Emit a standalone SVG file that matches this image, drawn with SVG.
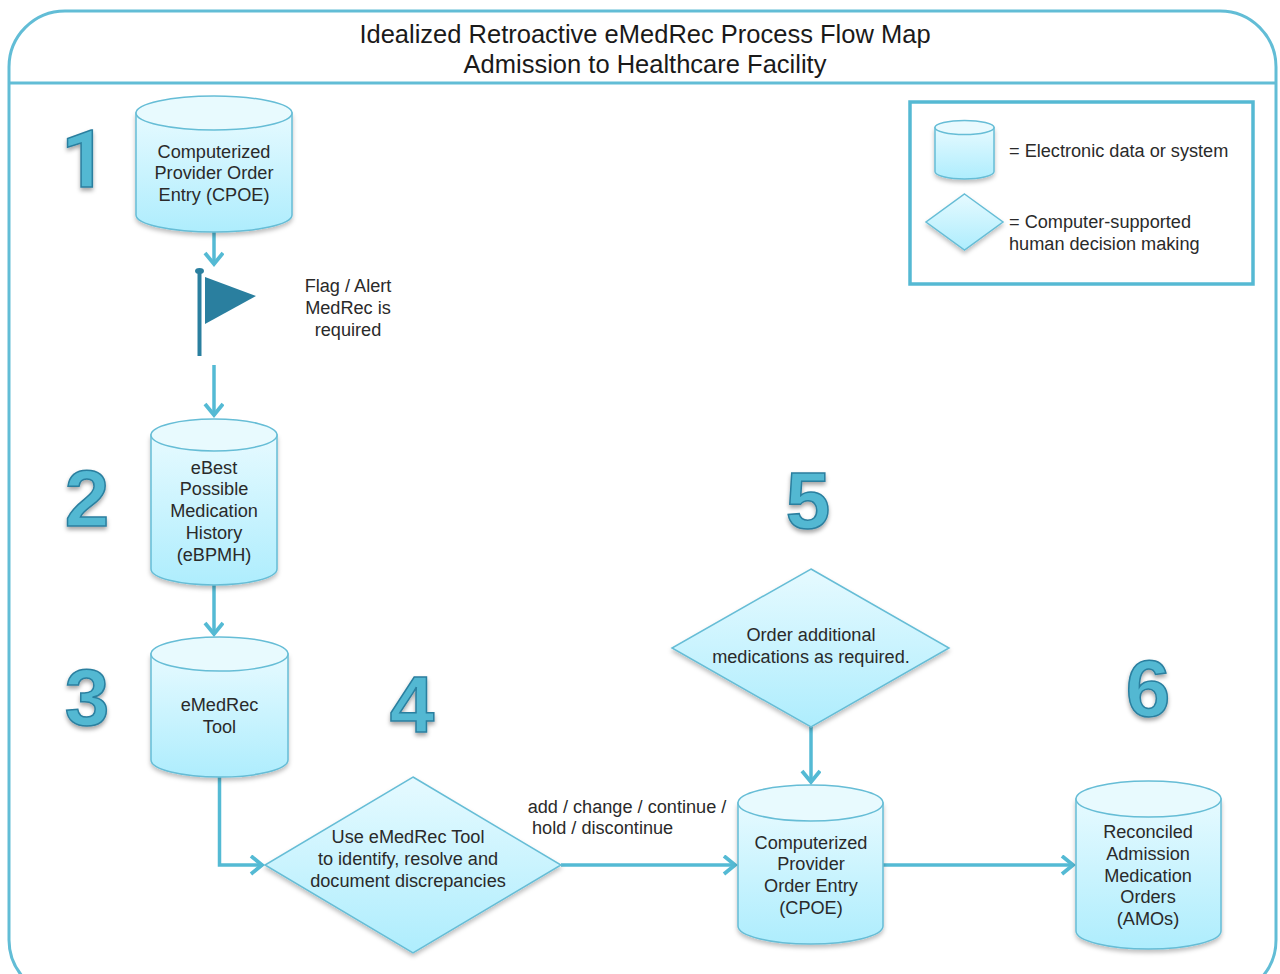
<svg xmlns="http://www.w3.org/2000/svg" width="1280" height="974" viewBox="0 0 1280 974">
<style>
text{font-family:"Liberation Sans",Arial,sans-serif;font-size:18.15px;fill:#2a2a2a;text-anchor:middle}
.l{text-anchor:start}
.title{font-size:25.5px;fill:#1a1a1a}
.num{font-size:80px;font-weight:bold;fill:#52b8d2;stroke:#2b7f9f;stroke-width:1.5;filter:url(#ns)}
.shape{fill:url(#g);stroke:#66bdd6;stroke-width:1.5;filter:url(#s)}
.top{fill:#e8fafe;stroke:#66bdd6;stroke-width:1.5}
.c{fill:none;stroke:#54bad4;stroke-width:3.5;marker-end:url(#a)}
.frame{fill:none;stroke:#62bdd6;stroke-width:3}
</style>
<defs>
<linearGradient id="g" x1="0" y1="0" x2="0" y2="1"><stop offset="0" stop-color="#e6faff"/><stop offset="1" stop-color="#aeedfd"/></linearGradient>
<filter id="s" x="-10%" y="-10%" width="120%" height="125%"><feDropShadow dx="0" dy="3" stdDeviation="2" flood-color="#000" flood-opacity=".25"/></filter>
<filter id="ns" x="-20%" y="-20%" width="150%" height="150%"><feDropShadow dx="0" dy="3" stdDeviation="2" flood-color="#000" flood-opacity=".35"/></filter>
<marker id="a" markerUnits="userSpaceOnUse" markerWidth="20" markerHeight="24" refX="14" refY="10" orient="auto"><path d="M3 1L14 10L3 19" fill="none" stroke="#54bad4" stroke-width="3.8"/></marker>
</defs>
<g id="frame">
<rect class="frame" x="9" y="11" width="1267" height="985" rx="56" ry="56"/>
<path class="frame" d="M9 83H1276"/>
<text class="title" x="645" y="43">Idealized Retroactive eMedRec Process Flow Map</text>
<text class="title" x="645" y="73">Admission to Healthcare Facility</text>
</g>
<g id="connectors">
<path class="c" d="M214 232V264"/>
<path class="c" d="M214 365V415"/>
<path class="c" d="M214 585V634"/>
<path class="c" d="M219.500 777V865H262"/>
<path class="c" d="M561 865H735"/>
<path class="c" d="M811 727V782"/>
<path class="c" d="M883 865H1073"/>
</g>
<g id="legend">
<rect x="910" y="102" width="343" height="182" fill="#fff" stroke="#55b9d3" stroke-width="3.500"/>
<path class="shape" d="M935 127.500V171.500A29.500 7.500 0 0 0 994 171.500V127.500Z"/>
<ellipse class="top" cx="964.500" cy="127.500" rx="29.500" ry="7"/>
<polygon class="shape" points="964.500,194 1003,222 964.500,250 926,222"/>
<text class="l" x="1009" y="157">= Electronic data or system</text>
<text class="l" x="1009" y="228">= Computer-supported</text>
<text class="l" x="1009" y="250">human decision making</text>
</g>
<g id="n1">
<text class="num" x="84" y="187" style="font-family:Roboto,'Liberation Sans',sans-serif">1</text>
<path class="shape" d="M136 113V215A78 17 0 0 0 292 215V113Z"/>
<ellipse class="top" cx="214" cy="113" rx="78" ry="17"/>
<text x="214" y="158">Computerized</text>
<text x="214" y="179">Provider Order</text>
<text x="214" y="201">Entry (CPOE)</text>
</g>
<g id="flag">
<path d="M199.500 270V356" stroke="#2a7f9f" stroke-width="4" fill="none"/>
<ellipse cx="199.500" cy="271" rx="4.500" ry="3" fill="#2a7f9f"/>
<polygon points="205,277 256,296 205,324" fill="#2a7f9f"/>
<text x="348" y="292">Flag / Alert</text>
<text x="348" y="314">MedRec is</text>
<text x="348" y="336">required</text>
</g>
<g id="n2">
<text class="num" x="87" y="526">2</text>
<path class="shape" d="M151 435V569A63 16 0 0 0 277 569V435Z"/>
<ellipse class="top" cx="214" cy="435" rx="63" ry="16"/>
<text x="214" y="474">eBest</text>
<text x="214" y="495">Possible</text>
<text x="214" y="517">Medication</text>
<text x="214" y="539">History</text>
<text x="214" y="561">(eBPMH)</text>
</g>
<g id="n3">
<text class="num" x="87" y="725">3</text>
<path class="shape" d="M151 654V760A68.500 17 0 0 0 288 760V654Z"/>
<ellipse class="top" cx="219.500" cy="654" rx="68.500" ry="17"/>
<text x="219.500" y="711">eMedRec</text>
<text x="219.500" y="733">Tool</text>
</g>
<g id="n4">
<text class="num" x="412" y="732">4</text>
<polygon class="shape" points="413,777 561,865 413,953 265,865"/>
<text x="408" y="843">Use eMedRec Tool</text>
<text x="408" y="865">to identify, resolve and</text>
<text x="408" y="887">document discrepancies</text>
<text x="627" y="813">add / change / continue /</text>
<text class="l" x="532" y="834">hold / discontinue</text>
</g>
<g id="n5">
<text class="num" x="808" y="528">5</text>
<polygon class="shape" points="811,569 949,648 811,727 672,648"/>
<text x="811" y="641">Order additional</text>
<text x="811" y="663">medications as required.</text>
</g>
<g id="n5b">
<path class="shape" d="M738 803V926A72.500 18 0 0 0 883 926V803Z"/>
<ellipse class="top" cx="810.500" cy="803" rx="72.500" ry="18"/>
<text x="811" y="849">Computerized</text>
<text x="811" y="870">Provider</text>
<text x="811" y="892">Order Entry</text>
<text x="811" y="914">(CPOE)</text>
</g>
<g id="n6">
<text class="num" x="1148" y="716">6</text>
<path class="shape" d="M1076 799V931A72.500 18 0 0 0 1221 931V799Z"/>
<ellipse class="top" cx="1148.500" cy="799" rx="72.500" ry="18"/>
<text x="1148" y="838">Reconciled</text>
<text x="1148" y="860">Admission</text>
<text x="1148" y="882">Medication</text>
<text x="1148" y="903">Orders</text>
<text x="1148" y="925">(AMOs)</text>
</g>
</svg>
